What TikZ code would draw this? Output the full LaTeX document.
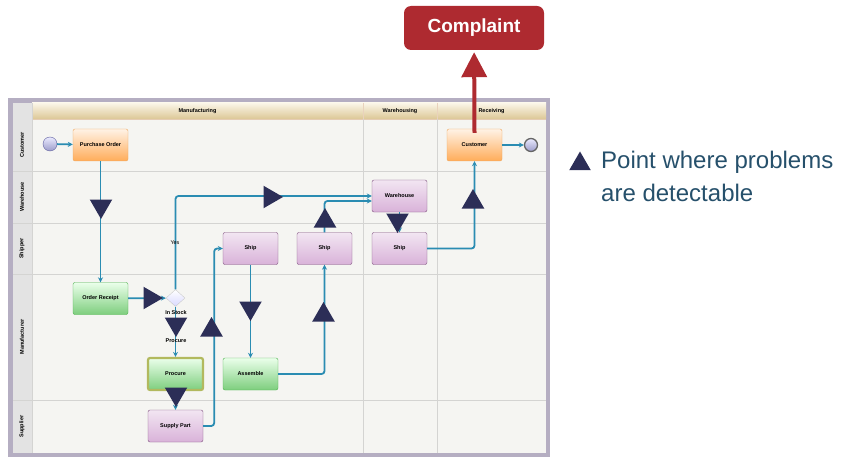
\documentclass[tikz,border=0pt]{standalone}
\usepackage{fontspec}
\setmainfont{Liberation Sans}
\usepackage{xcolor}
\usepackage{tikz}
\usetikzlibrary{arrows.meta}
\usetikzlibrary{shapes.geometric}

\definecolor{flowcol}{HTML}{2A8CB2}
\definecolor{warncol}{HTML}{2C2E57}
\definecolor{redcol}{HTML}{AE2A30}
\definecolor{legendcol}{HTML}{26506B}
\definecolor{framecol}{HTML}{B5AEC2}
\definecolor{lanebg}{HTML}{F5F5F2}
\definecolor{gridcol}{HTML}{D4D4D2}
\definecolor{headtop}{HTML}{FBF6E8}
\definecolor{headbot}{HTML}{DCC796}
\definecolor{markcol}{HTML}{B2B95E}

\begin{document}
\begin{tikzpicture}[x=1pt, y=-1pt,
    tiny/.style={font=\fontsize{5.5}{6}\selectfont\bfseries},
    box/.style={rectangle, rounded corners=2pt, minimum width=55pt, minimum height=32pt, inner sep=1pt, tiny},
    orangebox/.style={box, top color=orange!10, bottom color=orange!65, draw=orange!60!brown!70},
    greenbox/.style={box, top color=green!8, bottom color=green!45!gray!70, draw=green!40!gray},
    purplebox/.style={box, top color=white!90!violet, bottom color=violet!30, draw=violet!35!gray},
    flow/.style={draw=flowcol, line width=1.8pt, rounded corners=3pt, -{Stealth[length=5pt,width=5pt]}},
    warn/.style={regular polygon, regular polygon sides=3, minimum size=26pt, inner sep=0pt, fill=warncol},
    lanelabel/.style={tiny, rotate=90}]
    \useasboundingbox (0,0) rectangle (848,457);

    % swimlane frame
    \fill[framecol] (8,98) rectangle (550,457);
    \fill[lanebg] (13,103) rectangle (546,453);
    \fill[gray!22] (13,103) rectangle (32,453);
    \shade[top color=headtop, bottom color=headbot] (32,103) rectangle (546,119);
    \draw[brown!40] (32,119) -- (546,119);
    \draw[gridcol] (13,171) -- (546,171);
    \draw[gridcol] (13,223) -- (546,223);
    \draw[gridcol] (13,274) -- (546,274);
    \draw[gridcol] (13,400) -- (546,400);
    \draw[gridcol] (32,103) -- (32,453);
    \draw[gridcol] (363,119) -- (363,453);
    \draw[gridcol] (437,119) -- (437,453);
    \draw[brown!35] (363,103) -- (363,119);
    \draw[brown!35] (437,103) -- (437,119);

    \node[tiny] (hma) at (197.5,111) {Manufacturing};
    \node[tiny] (hwa) at (400,111) {Warehousing};
    \node[tiny] (hre) at (491.5,111) {Receiving};
    \node[lanelabel] (lcu) at (22,145) {Customer};
    \node[lanelabel] (lwa) at (22,197) {Warehouse};
    \node[lanelabel] (lsh) at (22,248.5) {Shipper};
    \node[lanelabel] (lma) at (22,337) {Manufacturer};
    \node[lanelabel] (lsu) at (22,426.5) {Supplier};

    % process steps
    \node[circle, minimum size=14pt, inner sep=0pt, top color=blue!8, bottom color=blue!30!gray!60, draw=blue!25!gray] (st) at (50,144) {};
    \node[orangebox] (po) at (100.5,145) {Purchase Order};
    \node[greenbox] (or) at (100.5,298.5) {Order Receipt};
    \node[diamond, minimum width=19pt, minimum height=17pt, inner sep=0pt, top color=white, bottom color=blue!15, draw=gray!40] (gw) at (175.5,298) {};
    \node[greenbox, draw=markcol, line width=2.2pt] (pr) at (175.5,374) {Procure};
    \node[purplebox] (sp) at (175.5,426) {Supply Part};
    \node[purplebox] (s1) at (250.5,248.5) {Ship};
    \node[greenbox] (as) at (250.5,374) {Assemble};
    \node[purplebox] (s2) at (324.5,248.5) {Ship};
    \node[purplebox] (wh) at (399.5,196) {Warehouse};
    \node[purplebox] (s3) at (399.5,248.5) {Ship};
    \node[orangebox] (cu) at (474.5,145) {Customer};
    \node[circle, minimum size=13pt, inner sep=0pt, top color=blue!8, bottom color=blue!30!gray!60, draw=gray!80!black, line width=1.3pt] (en) at (531,145) {};

    \draw[flow] (st) -- (po);
    \draw[flow] (po) -- (or);
    \draw[flow] (or) -- (gw);
    \draw[flow] (gw.north) |- (wh.west);
    \draw[flow] (gw) -- (pr);
    \draw[flow] (pr) -- (sp);
    \draw[flow] (sp.east) -- ++(11,0) |- (s1.west);
    \draw[flow] (s1) -- (as);
    \draw[flow] (as.east) -| (s2.south);
    \draw[flow] (s2.north) |- ([yshift=-5pt]wh.west);
    \draw[flow] (wh) -- (s3);
    \draw[flow] (s3.east) -| (cu.south);
    \draw[flow] (cu) -- (en);

    \node[tiny, font=\fontsize{5.5}{6}\selectfont] (yes) at (175,243) {Yes};
    \node[tiny] (ins) at (176,313) {In Stock};
    \node[tiny] (prl) at (176,341) {Procure};

    % detection points
    \node[warn, shape border rotate=180] (t1) at (101,206) {};
    \node[warn, shape border rotate=-90] (t2) at (150,298) {};
    \node[warn, shape border rotate=-90] (t3) at (270,197) {};
    \node[warn, shape border rotate=180] (t4) at (176,324) {};
    \node[warn, shape border rotate=180] (t5) at (176,394) {};
    \node[warn] (t6) at (211.5,330) {};
    \node[warn, shape border rotate=180] (t7) at (250.5,308) {};
    \node[warn] (t8) at (323.5,315) {};
    \node[warn] (t9) at (325,221) {};
    \node[warn, shape border rotate=180] (t10) at (397.5,220) {};
    \node[warn] (t11) at (473,202) {};

    % complaint
    \node[rectangle, rounded corners=7pt, fill=redcol, minimum width=140pt, minimum height=44pt, text=white, font=\fontsize{19}{22}\selectfont\bfseries] (cp) at (474,28) {Complaint};
    \draw[redcol, line width=4pt, shorten >=2pt, -{Triangle[width=25pt,length=25pt]}] ([yshift=-4pt]cu.north) -- (cp);

    % legend
    \node[warn, minimum size=25pt] (lg) at (580,164) {};
    \node[anchor=north west, inner sep=0pt, align=left, text=legendcol, font=\fontsize{24}{33}\selectfont] (lt) at (601,151) {Point where problems\\are detectable};
\end{tikzpicture}
\end{document}
